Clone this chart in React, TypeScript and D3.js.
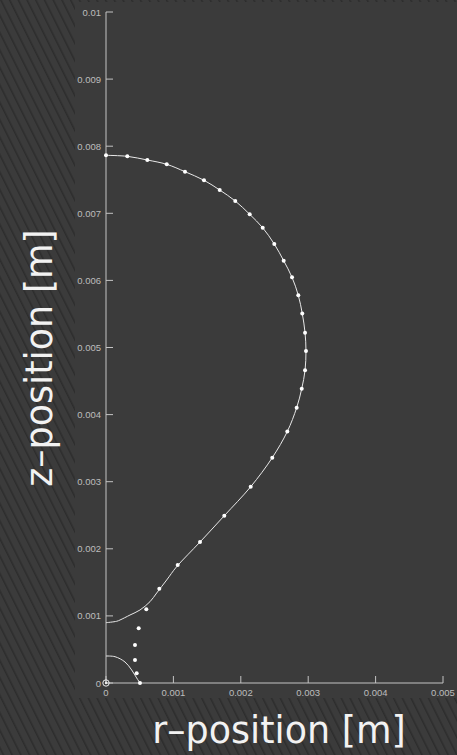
import React from "react";
import * as d3 from "d3";

// Droplet contour: r/z coordinates in metres
const contourR = [0, 0.000316, 0.000613, 0.000901, 0.001172, 0.001454, 0.001687, 0.001918, 0.002132, 0.002325, 0.002497, 0.002636, 0.00276, 0.002853, 0.002912, 0.002953, 0.002967, 0.002953, 0.002904, 0.002829, 0.00269, 0.002467, 0.002147, 0.001755, 0.001395, 0.001048, 0.0009, 0.000752, 0.000653, 0.000504, 0.000356, 0.000208, 0.000159, 0];
const contourZ = [0.007864, 0.007849, 0.007794, 0.00773, 0.00762, 0.007492, 0.007347, 0.007183, 0.006985, 0.006784, 0.006542, 0.006294, 0.006046, 0.005778, 0.005507, 0.005221, 0.004948, 0.00466, 0.004386, 0.004103, 0.003748, 0.003358, 0.002925, 0.002493, 0.002101, 0.001733, 0.001535, 0.001341, 0.001212, 0.001088, 0.001013, 0.000939, 0.00092, 0.000899];

// Lower (neck) contour
const neckR = [0, 0.000134, 0.000282, 0.000381, 0.000455, 0.000504];
const neckZ = [0.000402, 0.000392, 0.000313, 0.000194, 0.000075, 0];

// Measured points
const pointR = [0, 0.000316, 0.000613, 0.000901, 0.001172, 0.001454, 0.001687, 0.001918, 0.002132, 0.002325, 0.002497, 0.002636, 0.00276, 0.002853, 0.002912, 0.002953, 0.002967, 0.002953, 0.002904, 0.002829, 0.00269, 0.002467, 0.002147, 0.001755, 0.001395, 0.001064, 0.000791, 0.000598, 0.000485, 0.00043, 0.00043, 0.000455, 0.000504];
const pointZ = [0.007864, 0.007849, 0.007794, 0.00773, 0.00762, 0.007492, 0.007347, 0.007183, 0.006985, 0.006784, 0.006542, 0.006294, 0.006046, 0.005778, 0.005507, 0.005221, 0.004948, 0.00466, 0.004386, 0.004103, 0.003748, 0.003358, 0.002925, 0.002493, 0.002101, 0.001759, 0.001405, 0.001098, 0.000815, 0.000566, 0.000343, 0.000145, 0];

const xTicks = [0, 0.001, 0.002, 0.003, 0.004, 0.005];
const xTickLabels = ["0", "0.001", "0.002", "0.003", "0.004", "0.005"];
const yTicks = [0, 0.001, 0.002, 0.003, 0.004, 0.005, 0.006, 0.007, 0.008, 0.009, 0.01];
const yTickLabels = ["0", "0.001", "0.002", "0.003", "0.004", "0.005", "0.006", "0.007", "0.008", "0.009", "0.01"];

const W = 457;
const H = 755;

export default function App() {
  const x = d3.scaleLinear().domain([0, 0.005]).range([106, 443]);
  const y = d3.scaleLinear().domain([0, 0.01]).range([683, 12]);

  const line = d3
    .line<[number, number]>()
    .x((d) => x(d[0]))
    .y((d) => y(d[1]))
    .curve(d3.curveCatmullRom.alpha(0.5));

  const contour = contourR.map((r, i) => [r, contourZ[i]] as [number, number]);
  const neck = neckR.map((r, i) => [r, neckZ[i]] as [number, number]);
  const points = pointR.map((r, i) => [r, pointZ[i]] as [number, number]);

  const tickFont = "'Liberation Sans', Arial, sans-serif";
  const titleFont = "'DejaVu Sans', sans-serif";

  return (
    <svg
      width={W}
      height={H}
      style={{ position: "absolute", left: 0, top: 0, display: "block" }}
    >
      <defs>
        <pattern
          id="hatch"
          patternUnits="userSpaceOnUse"
          width={7.8}
          height={12}
          patternTransform="rotate(-26.57)"
        >
          <rect width={7.8} height={12} fill="#3b3b3b" />
          <line x1={0.8} y1={0} x2={0.8} y2={12} stroke="#2c2c2c" strokeWidth={1.5} />
        </pattern>
      </defs>
      <rect x={0} y={0} width={W} height={H} fill="url(#hatch)" />
      <rect x={75} y={2} width={W - 75} height={696} fill="#3b3b3b" />

      {/* axes */}
      <line x1={x(0)} y1={y(0)} x2={x(0.005)} y2={y(0)} stroke="#c4c4c4" strokeWidth={1} />
      <line x1={x(0)} y1={y(0)} x2={x(0)} y2={y(0.01)} stroke="#c4c4c4" strokeWidth={1} />
      {xTicks.map((t, i) => (
        <g key={"xt" + i}>
          <line x1={x(t)} x2={x(t)} y1={y(0)} y2={y(0) - 7} stroke="#c4c4c4" strokeWidth={1} />
          <text
            x={x(t)}
            y={696}
            textAnchor="middle"
            fontFamily={tickFont}
            fontSize={9.5}
            fill="#bdbdbd"
          >
            {xTickLabels[i]}
          </text>
        </g>
      ))}
      {yTicks.map((t, i) => (
        <g key={"yt" + i}>
          <line x1={x(0)} x2={x(0) + 7} y1={y(t)} y2={y(t)} stroke="#c4c4c4" strokeWidth={1} />
          <text
            x={101}
            y={y(t) + 3.5}
            textAnchor="end"
            fontFamily={tickFont}
            fontSize={9.5}
            fill="#bdbdbd"
          >
            {yTickLabels[i]}
          </text>
        </g>
      ))}

      {/* contours */}
      <path d={line(contour) ?? ""} fill="none" stroke="#e8e8e8" strokeWidth={1} />
      <path d={line(neck) ?? ""} fill="none" stroke="#e8e8e8" strokeWidth={1} />

      {/* measured points */}
      {points.map((p, i) => (
        <circle key={"p" + i} cx={x(p[0])} cy={y(p[1])} r={2} fill="#ffffff" />
      ))}

      {/* origin marker */}
      <circle cx={x(0)} cy={y(0)} r={3.2} fill="none" stroke="#eeeeee" strokeWidth={1} />
      <circle cx={x(0)} cy={y(0)} r={1.2} fill="#eeeeee" />

      {/* axis titles */}
      <text
        x={279}
        y={743}
        textAnchor="middle"
        fontFamily={titleFont}
        fontSize={36.5}
        fill="#f2f2f2"
      >
        r–position [m]
      </text>
      <text
        transform={`translate(52,358) rotate(-90)`}
        textAnchor="middle"
        fontFamily={titleFont}
        fontSize={36.5}
        fill="#f2f2f2"
      >
        z–position [m]
      </text>
    </svg>
  );
}
